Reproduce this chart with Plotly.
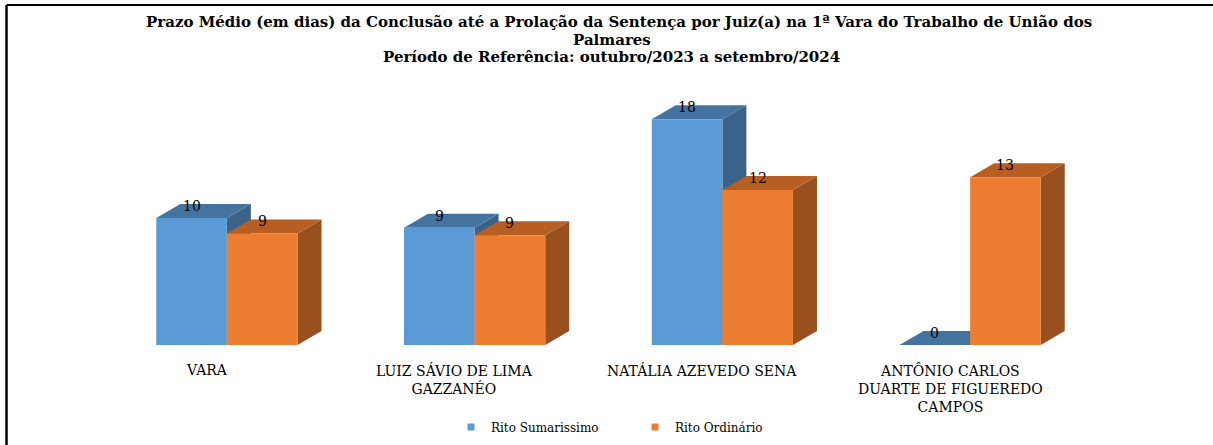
import plotly.graph_objects as go

# ---------------- data ----------------
categories = ["VARA", "LUIZ SÁVIO DE LIMA<br>GAZZANÉO", "NATÁLIA AZEVEDO SENA",
              "ANTÔNIO CARLOS<br>DUARTE DE FIGUEREDO<br>CAMPOS"]
series_names = ["Rito Sumarissimo", "Rito Ordinário"]
rito_sumarissimo = [9.96, 9.2, 17.7, 0.0]
rito_ordinario = [8.75, 8.6, 12.15, 13.15]
title_lines = [
    "Prazo Médio (em dias) da Conclusão até a Prolação da Sentença por Juiz(a) na 1ª Vara do Trabalho de União dos",
    "Palmares",
    "Período de Referência: outubro/2023 a setembro/2024",
]

# ---------------- layout geometry ----------------
W, H = 1213, 445
ML, MR, MT, MB = 103, 119, 60, 100
PW, PH = W - ML - MR, H - MT - MB
X0, X1 = -0.5, len(categories) - 0.5
PX_PER_Y = 12.75
Y1 = PH / PX_PER_Y
px_per_x = PW / (X1 - X0)

DEPTH_DX = 24 / px_per_x      # 3D depth offset (x)
DEPTH_DY = 14 / PX_PER_Y      # 3D depth offset (y)
BAR_W = 70.6 / px_per_x

FONT = "DejaVu Serif"

colors = {
    "Rito Sumarissimo": dict(front="#5B9BD5", top="#4573A0", side="#3B6389"),
    "Rito Ordinário": dict(front="#ED7D31", top="#B75E23", side="#9A4F1E"),
}


def paper_x(px):
    return (px - ML) / PW


def paper_y(py):
    return (H - MB - py) / PH


fig = go.Figure()


def poly(xs, ys, color):
    fig.add_trace(go.Scatter(
        x=xs + [xs[0]], y=ys + [ys[0]], mode="lines", fill="toself",
        fillcolor=color, line=dict(width=0, color=color),
        hoverinfo="skip", showlegend=False))


annotations = []
for i in range(len(categories)):
    for k, (name, vals) in enumerate(zip(series_names, [rito_sumarissimo, rito_ordinario])):
        v = vals[i]
        a = i - BAR_W + k * BAR_W
        b = a + BAR_W
        c = colors[name]
        # side face
        poly([b, b + DEPTH_DX, b + DEPTH_DX, b], [0, DEPTH_DY, v + DEPTH_DY, v], c["side"])
        # top face
        poly([a, a + DEPTH_DX, b + DEPTH_DX, b], [v, v + DEPTH_DY, v + DEPTH_DY, v], c["top"])
        # front face
        if v > 0:
            poly([a, b, b, a], [0, 0, v, v], c["front"])
        annotations.append(dict(
            x=(a + b) / 2, y=v, xref="x", yref="y", text=f"{round(v):d}",
            showarrow=False, yshift=12, yanchor="middle",
            font=dict(family=FONT, size=14, color="black")))
    annotations.append(dict(
        x=i, y=0, xref="x", yref="y", text=categories[i], showarrow=False,
        xshift=-20, yshift=-15, yanchor="top", xanchor="center", align="center",
        font=dict(family=FONT, size=14, color="black")))

# legend entries
for name in series_names:
    fig.add_trace(go.Scatter(
        x=[None], y=[None], mode="markers", name=name,
        marker=dict(symbol="square", size=7, color=colors[name]["front"])))

# title lines
for txt, px_x, px_y in zip(title_lines, [619, 612, 611], [22, 40, 57]):
    annotations.append(dict(
        x=paper_x(px_x), y=paper_y(px_y), xref="paper", yref="paper", text=f"<b>{txt}</b>",
        showarrow=False, xanchor="center", yanchor="middle",
        font=dict(family=FONT, size=15, color="black")))

shapes = [
    dict(type="line", xref="paper", yref="paper", x0=paper_x(6.5), x1=paper_x(1220),
         y0=paper_y(5), y1=paper_y(5), line=dict(color="black", width=2)),
    dict(type="line", xref="paper", yref="paper", x0=paper_x(6.5), x1=paper_x(6.5),
         y0=paper_y(5), y1=paper_y(450), line=dict(color="black", width=2.5)),
]

fig.update_layout(
    width=W, height=H,
    margin=dict(l=ML, r=MR, t=MT, b=MB, autoexpand=False),
    paper_bgcolor="white", plot_bgcolor="white",
    xaxis=dict(range=[X0, X1], visible=False, fixedrange=True),
    yaxis=dict(range=[0, Y1], visible=False, fixedrange=True),
    showlegend=True,
    legend=dict(orientation="h", x=paper_x(451), xanchor="left",
                y=paper_y(427), yanchor="middle",
                font=dict(family=FONT, size=12, color="black"),
                itemwidth=30, entrywidth=139, entrywidthmode="pixels"),
    annotations=annotations,
    shapes=shapes,
)

fig.write_html(
    "out.html",
    config={"displayModeBar": False},
    post_script="document.body.style.margin='0';document.body.style.overflow='hidden';",
)
